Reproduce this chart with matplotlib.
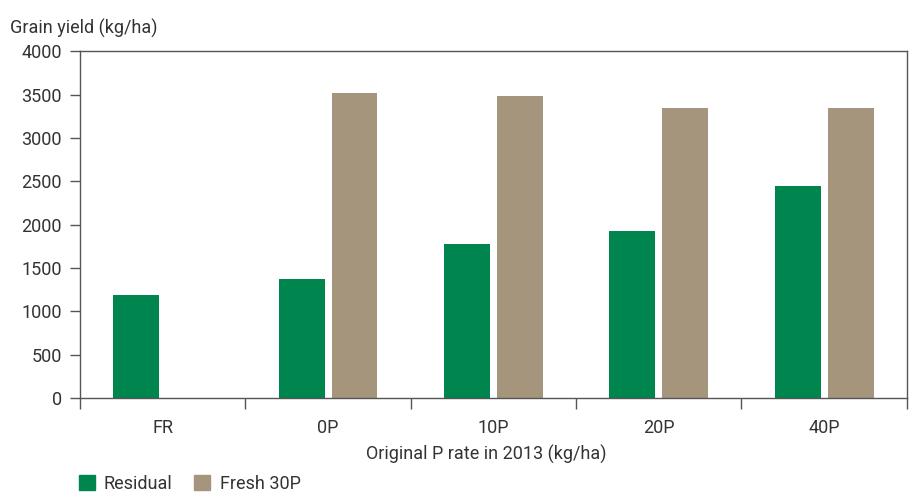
import matplotlib.pyplot as plt
import numpy as np
from matplotlib import font_manager
from matplotlib.patches import Patch

# grain yield by original P rate
categories = ["FR", "0P", "10P", "20P", "40P"]
residual = [1190, 1370, 1780, 1930, 2450]
fresh_30p = [0, 3520, 3480, 3340, 3350]

GREEN = "#00854f"
TAN = "#a5957d"
TEXT = "#333333"
SPINE = "#555555"

names = {f.name for f in font_manager.fontManager.ttflist}
family = "Liberation Sans Narrow" if "Liberation Sans Narrow" in names else "Roboto"
plt.rcParams["font.family"] = [family, "DejaVu Sans"]
plt.rcParams["font.size"] = 13

fig = plt.figure(figsize=(9.16, 4.92), dpi=100)
ax = fig.add_axes([0.0873, 0.191, 0.9027, 0.705])

x = np.arange(len(categories))
width = 0.278
offset = 0.16
ax.bar(x - offset, residual, width, color=GREEN, label="Residual")
ax.bar(x + offset, fresh_30p, width, color=TAN, label="Fresh 30P")

ax.set_xlim(-0.5, len(categories) - 0.5)
ax.set_ylim(0, 4000)
ax.set_yticks(np.arange(0, 4001, 500))
ax.set_xticks(np.arange(-0.5, len(categories), 1.0))
ax.set_xticklabels([])
ax.set_xticks(x, minor=True)
ax.set_xticklabels(categories, minor=True)
ax.tick_params(axis="x", which="minor", length=0, pad=15, labelsize=13, labelcolor=TEXT)
ax.tick_params(axis="x", which="major", length=8, width=1, color=SPINE)
ax.tick_params(axis="y", length=7, width=1, color=SPINE, labelsize=13, labelcolor=TEXT, pad=6)

for s in ax.spines.values():
    s.set_color(SPINE)
    s.set_linewidth(1)

fig.text(0.011, 0.942, "Grain yield (kg/ha)", ha="left", va="center", fontsize=13, color=TEXT)
fig.text(0.531, 0.076, "Original P rate in 2013 (kg/ha)", ha="center", va="center",
         fontsize=13, color=TEXT)

handles = [Patch(color=GREEN, label="Residual"), Patch(color=TAN, label="Fresh 30P")]
fig.legend(handles=handles, loc="lower left", bbox_to_anchor=(0.068, -0.035), ncol=2,
           frameon=False, fontsize=13, handlelength=0.9, handleheight=0.9,
           handletextpad=0.5, columnspacing=1.2, labelcolor=TEXT)

fig.savefig("out.png", dpi=100)
